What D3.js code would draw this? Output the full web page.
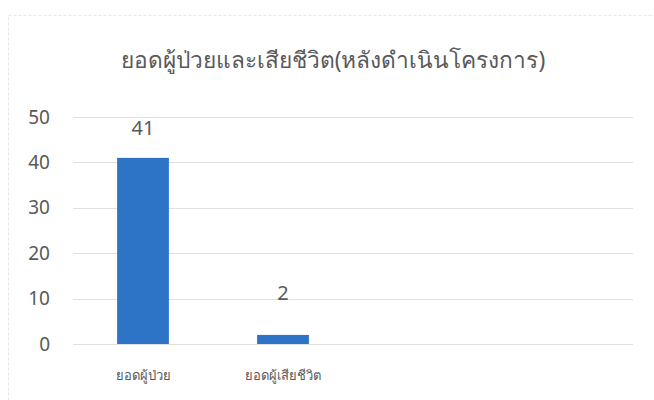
<!DOCTYPE html>
<html>
<head>
<meta charset="utf-8">
<script src="https://cdn.jsdelivr.net/npm/d3@7"></script>
<style>
  body { margin: 0; background: #fff; }
  text { font-family: "Noto Sans", "DejaVu Sans", sans-serif; fill: #595959; }
</style>
</head>
<body>
<div id="chart"></div>
<script>
// chart data
var title = "ยอดผู้ป่วยและเสียชีวิต(หลังดำเนินโครงการ)";
var categories = ["ยอดผู้ป่วย", "ยอดผู้เสียชีวิต"];
var values = [41, 2];
var yTicks = [0, 10, 20, 30, 40, 50];
var slotCount = 4; // plot area has room for 4 categories, only 2 are used

var svgWidth = 654;
var svgHeight = 400;

var margin = { top: 117, right: 21, bottom: 56, left: 73 };
var width = svgWidth - margin.left - margin.right;
var height = svgHeight - margin.top - margin.bottom;

// how far each data label sits above its bar (the small bar's label was lifted higher)
var labelLift = [23, 35];

var svg = d3.select("#chart")
  .append("svg")
  .attr("width", svgWidth)
  .attr("height", svgHeight);

// faint chart border
svg.append("rect")
  .attr("x", 8.5)
  .attr("y", 15.5)
  .attr("width", 660)
  .attr("height", 400)
  .attr("fill", "none")
  .attr("stroke", "#e6e6e6")
  .attr("stroke-dasharray", "3,2");

svg.append("text")
  .attr("x", 333)
  .attr("y", 68)
  .attr("text-anchor", "middle")
  .attr("font-size", "22.7px")
  .text(title);

var chartGroup = svg.append("g")
  .attr("transform", `translate(${margin.left}, ${margin.top})`);

var xScale = d3.scaleBand()
  .domain(d3.range(slotCount))
  .range([0, width])
  .paddingInner(0.63)
  .paddingOuter(0.315);

var yScale = d3.scaleLinear()
  .domain([0, 50])
  .range([height, 0]);

// gridlines
chartGroup.append("g")
  .selectAll("line")
  .data(yTicks)
  .enter()
  .append("line")
  .attr("x1", 0)
  .attr("x2", width)
  .attr("y1", d => Math.round(yScale(d)) + 0.5)
  .attr("y2", d => Math.round(yScale(d)) + 0.5)
  .attr("stroke", "#e0e0e0")
  .attr("stroke-width", 1);

// y axis labels
var leftAxis = d3.axisLeft(yScale).tickValues(yTicks).tickSize(0).tickPadding(23);
var yAxis = chartGroup.append("g").call(leftAxis);
yAxis.select(".domain").remove();
yAxis.selectAll("text")
  .attr("font-size", "19px")
  .attr("fill", "#595959");

// bars
chartGroup.selectAll("rect.bar")
  .data(values)
  .enter()
  .append("rect")
  .attr("class", "bar")
  .attr("x", (d, i) => xScale(i))
  .attr("y", d => yScale(d))
  .attr("width", xScale.bandwidth())
  .attr("height", d => height - yScale(d))
  .attr("fill", "#2e74c6");

// value labels
chartGroup.selectAll("text.val")
  .data(values)
  .enter()
  .append("text")
  .attr("class", "val")
  .attr("x", (d, i) => xScale(i) + xScale.bandwidth() / 2)
  .attr("y", (d, i) => yScale(d) - labelLift[i])
  .attr("text-anchor", "middle")
  .attr("font-size", "20px")
  .attr("fill", "#404040")
  .text(d => d);

// x axis labels
var bottomAxis = d3.axisBottom(xScale)
  .tickSize(0)
  .tickPadding(27)
  .tickFormat(i => categories[i] || "");
var xAxis = chartGroup.append("g")
  .attr("transform", `translate(0, ${height})`)
  .call(bottomAxis);
xAxis.select(".domain").remove();
xAxis.selectAll("text")
  .attr("font-size", "13px")
  .attr("fill", "#595959");
</script>
</body>
</html>
